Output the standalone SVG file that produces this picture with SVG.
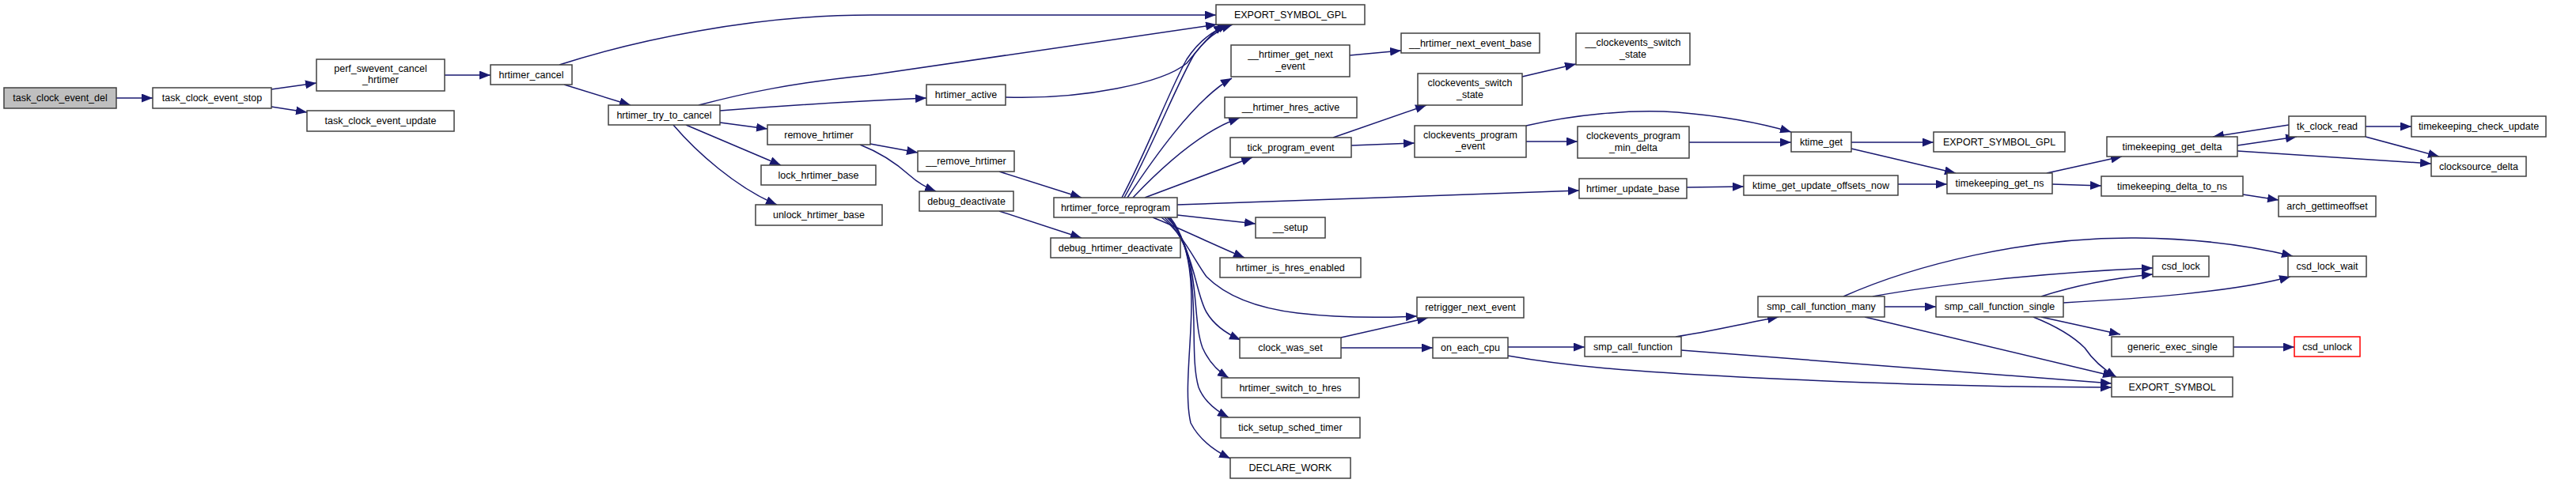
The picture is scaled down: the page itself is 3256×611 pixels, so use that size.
<svg xmlns="http://www.w3.org/2000/svg" width="3256" height="611" viewBox="0 0 3256 611">
<style>
.n rect{fill:#fff;stroke:#404040;stroke-width:1.5}
.n text{font-family:"Liberation Sans",Arial,sans-serif;font-size:12.5px;text-anchor:middle;fill:#000}
.root rect{fill:#bfbfbf}
.red rect{stroke:#ff0000}
#edges path{fill:none;stroke:#191970;stroke-width:1.5;marker-end:url(#a)}
</style>
<defs>
<marker id="a" markerUnits="userSpaceOnUse" markerWidth="14" markerHeight="11" refX="14" refY="5.5" orient="auto" viewBox="0 0 14 11"><path d="M0,0 L14,5.5 L0,11 z" fill="#191970"/></marker>
</defs>
<rect width="3256" height="611" fill="#fff"/>
<g id="edges">
<path d="M147,124 L193,124"/>
<path d="M343,113 L400,105"/>
<path d="M343,135 L388,142"/>
<path d="M562,95 L620,95"/>
<path d="M707,82 C800,52 950,19 1100,19 L1537,19"/>
<path d="M713,107 L797,133"/>
<path d="M883,133 C940,118 1000,105 1100,95 L1538,31"/>
<path d="M910,140 C1000,133 1100,127 1171,124"/>
<path d="M910,155 L970,163"/>
<path d="M867,158 L987,209"/>
<path d="M851,158 C880,192 930,237 982,259"/>
<path d="M1271,123 C1370,126 1470,105 1500,80 C1515,62 1530,42 1548,31"/>
<path d="M1418,250 C1450,190 1480,110 1500,75 C1515,52 1535,38 1553,31"/>
<path d="M1421,250 C1455,190 1490,100 1510,68 C1525,48 1540,37 1558,31"/>
<path d="M1425,250 C1455,205 1510,125 1557,99"/>
<path d="M1432,250 C1470,210 1520,165 1567,149"/>
<path d="M1447,250 L1583,199"/>
<path d="M1488,259 C1700,252 1850,246 1996,241"/>
<path d="M1488,272 L1587,283"/>
<path d="M1457,275 C1490,288 1530,308 1573,326"/>
<path d="M1468,275 C1495,295 1510,330 1525,350 C1550,375 1590,390 1640,396 C1700,403 1750,402 1791,400"/>
<path d="M1472,275 C1510,310 1510,370 1525,395 C1535,412 1550,422 1568,430"/>
<path d="M1475,275 C1520,320 1505,400 1520,440 C1528,458 1540,470 1553,478"/>
<path d="M1477,275 C1525,330 1500,440 1515,490 C1522,508 1538,520 1553,528"/>
<path d="M1479,275 C1530,340 1490,470 1505,535 C1515,555 1535,570 1555,580"/>
<path d="M1100,182 L1160,193"/>
<path d="M1087,183 C1110,192 1130,204 1150,222 C1160,231 1170,237 1183,242"/>
<path d="M1263,217 L1367,250"/>
<path d="M1263,267 L1367,301"/>
<path d="M1706,70 L1771,64"/>
<path d="M1685,174 L1803,133"/>
<path d="M1708,184 L1788,181"/>
<path d="M1924,97 L1992,81"/>
<path d="M1929,179 L1994,179"/>
<path d="M1929,159 C1990,145 2060,138 2120,142 C2180,147 2230,157 2264,167"/>
<path d="M2135,180 L2264,180"/>
<path d="M2132,237 L2204,236"/>
<path d="M2340,180 L2444,180"/>
<path d="M2340,188 L2472,219"/>
<path d="M2399,233 L2461,233"/>
<path d="M2587,219 L2682,198"/>
<path d="M2594,233 L2656,235"/>
<path d="M2828,184 L2903,173"/>
<path d="M2893,158 L2797,173"/>
<path d="M2990,160 L3048,160"/>
<path d="M2990,173 L3083,198"/>
<path d="M2828,191 L3073,207"/>
<path d="M2835,246 L2880,253"/>
<path d="M1695,427 L1805,402"/>
<path d="M1695,440 L1811,440"/>
<path d="M1906,439 L2003,439"/>
<path d="M1906,450 C1980,463 2060,470 2200,477 C2400,487 2550,490 2669,490"/>
<path d="M2118,426 C2160,420 2200,410 2248,401"/>
<path d="M2125,443 L2669,485"/>
<path d="M2382,388 L2447,388"/>
<path d="M2330,375 C2420,335 2560,300 2700,301 C2790,302 2850,312 2898,324"/>
<path d="M2367,375 C2450,360 2580,345 2721,339"/>
<path d="M2580,375 C2620,362 2670,352 2721,347"/>
<path d="M2608,383 C2700,378 2820,370 2895,350"/>
<path d="M2580,401 L2680,423"/>
<path d="M2570,401 C2600,413 2620,425 2635,440 C2645,455 2660,468 2675,477"/>
<path d="M2357,401 L2672,476"/>
<path d="M2823,439 L2900,439"/>
</g>
<g id="task_clock_event_del" class="n root"><rect x="5" y="111" width="142" height="26"/><text x="76" y="128">task_clock_event_del</text></g>
<g id="task_clock_event_stop" class="n"><rect x="193" y="111" width="150" height="26"/><text x="268" y="128">task_clock_event_stop</text></g>
<g id="perf_swevent_cancel_hrtimer" class="n"><rect x="400" y="75" width="162" height="40"/><text x="481" y="91">perf_swevent_cancel</text><text x="481" y="105">_hrtimer</text></g>
<g id="task_clock_event_update" class="n"><rect x="388" y="140" width="186" height="26"/><text x="481" y="157">task_clock_event_update</text></g>
<g id="hrtimer_cancel" class="n"><rect x="620" y="82" width="103" height="25"/><text x="671.5" y="99">hrtimer_cancel</text></g>
<g id="hrtimer_try_to_cancel" class="n"><rect x="769" y="133" width="141" height="25"/><text x="839.5" y="150">hrtimer_try_to_cancel</text></g>
<g id="remove_hrtimer" class="n"><rect x="970" y="158" width="130" height="25"/><text x="1035" y="175">remove_hrtimer</text></g>
<g id="lock_hrtimer_base" class="n"><rect x="962" y="209" width="145" height="25"/><text x="1034.5" y="226">lock_hrtimer_base</text></g>
<g id="unlock_hrtimer_base" class="n"><rect x="955" y="259" width="160" height="26"/><text x="1035" y="276">unlock_hrtimer_base</text></g>
<g id="EXPORT_SYMBOL_GPL_1" class="n"><rect x="1537" y="6" width="188" height="25"/><text x="1631" y="23">EXPORT_SYMBOL_GPL</text></g>
<g id="hrtimer_active" class="n"><rect x="1171" y="107" width="100" height="26"/><text x="1221" y="124">hrtimer_active</text></g>
<g id="__remove_hrtimer" class="n"><rect x="1160" y="191" width="122" height="26"/><text x="1221" y="208">__remove_hrtimer</text></g>
<g id="debug_deactivate" class="n"><rect x="1162" y="242" width="119" height="25"/><text x="1221.5" y="259">debug_deactivate</text></g>
<g id="hrtimer_force_reprogram" class="n"><rect x="1332" y="250" width="156" height="25"/><text x="1410" y="267">hrtimer_force_reprogram</text></g>
<g id="debug_hrtimer_deactivate" class="n"><rect x="1328" y="301" width="164" height="25"/><text x="1410" y="318">debug_hrtimer_deactivate</text></g>
<g id="__hrtimer_get_next_event" class="n"><rect x="1556" y="57" width="150" height="40"/><text x="1631" y="73">__hrtimer_get_next</text><text x="1631" y="88">_event</text></g>
<g id="__hrtimer_hres_active" class="n"><rect x="1548" y="123" width="167" height="26"/><text x="1631.5" y="140">__hrtimer_hres_active</text></g>
<g id="tick_program_event" class="n"><rect x="1555" y="174" width="153" height="25"/><text x="1631.5" y="191">tick_program_event</text></g>
<g id="__setup" class="n"><rect x="1587" y="275" width="88" height="26"/><text x="1631" y="292">__setup</text></g>
<g id="hrtimer_is_hres_enabled" class="n"><rect x="1542" y="326" width="178" height="25"/><text x="1631" y="343">hrtimer_is_hres_enabled</text></g>
<g id="clock_was_set" class="n"><rect x="1567" y="427" width="128" height="26"/><text x="1631" y="444">clock_was_set</text></g>
<g id="hrtimer_switch_to_hres" class="n"><rect x="1544" y="478" width="174" height="25"/><text x="1631" y="495">hrtimer_switch_to_hres</text></g>
<g id="tick_setup_sched_timer" class="n"><rect x="1543" y="528" width="176" height="26"/><text x="1631" y="545">tick_setup_sched_timer</text></g>
<g id="DECLARE_WORK" class="n"><rect x="1555" y="579" width="152" height="26"/><text x="1631" y="596">DECLARE_WORK</text></g>
<g id="__hrtimer_next_event_base" class="n"><rect x="1771" y="42" width="175" height="25"/><text x="1858.5" y="59">__hrtimer_next_event_base</text></g>
<g id="clockevents_switch_state" class="n"><rect x="1792" y="93" width="132" height="40"/><text x="1858" y="109">clockevents_switch</text><text x="1858" y="124">_state</text></g>
<g id="__clockevents_switch_state" class="n"><rect x="1992" y="42" width="144" height="40"/><text x="2064" y="58">__clockevents_switch</text><text x="2064" y="73">_state</text></g>
<g id="clockevents_program_event" class="n"><rect x="1788" y="159" width="141" height="40"/><text x="1858.5" y="175">clockevents_program</text><text x="1858.5" y="189">_event</text></g>
<g id="clockevents_program_min_delta" class="n"><rect x="1994" y="160" width="141" height="40"/><text x="2064.5" y="176">clockevents_program</text><text x="2064.5" y="191">_min_delta</text></g>
<g id="hrtimer_update_base" class="n"><rect x="1996" y="226" width="136" height="25"/><text x="2064" y="243">hrtimer_update_base</text></g>
<g id="retrigger_next_event" class="n"><rect x="1791" y="376" width="135" height="26"/><text x="1858.5" y="393">retrigger_next_event</text></g>
<g id="on_each_cpu" class="n"><rect x="1811" y="427" width="95" height="26"/><text x="1858.5" y="444">on_each_cpu</text></g>
<g id="smp_call_function" class="n"><rect x="2003" y="426" width="122" height="25"/><text x="2064" y="443">smp_call_function</text></g>
<g id="ktime_get" class="n"><rect x="2264" y="167" width="76" height="25"/><text x="2302" y="184">ktime_get</text></g>
<g id="EXPORT_SYMBOL_GPL_2" class="n"><rect x="2444" y="167" width="166" height="25"/><text x="2527" y="184">EXPORT_SYMBOL_GPL</text></g>
<g id="ktime_get_update_offsets_now" class="n"><rect x="2204" y="222" width="195" height="25"/><text x="2301.5" y="239">ktime_get_update_offsets_now</text></g>
<g id="timekeeping_get_ns" class="n"><rect x="2461" y="219" width="133" height="26"/><text x="2527.5" y="236">timekeeping_get_ns</text></g>
<g id="timekeeping_get_delta" class="n"><rect x="2663" y="173" width="165" height="25"/><text x="2745.5" y="190">timekeeping_get_delta</text></g>
<g id="timekeeping_delta_to_ns" class="n"><rect x="2656" y="223" width="179" height="25"/><text x="2745.5" y="240">timekeeping_delta_to_ns</text></g>
<g id="smp_call_function_many" class="n"><rect x="2222" y="375" width="160" height="26"/><text x="2302" y="392">smp_call_function_many</text></g>
<g id="smp_call_function_single" class="n"><rect x="2447" y="375" width="161" height="26"/><text x="2527.5" y="392">smp_call_function_single</text></g>
<g id="generic_exec_single" class="n"><rect x="2669" y="426" width="154" height="25"/><text x="2746" y="443">generic_exec_single</text></g>
<g id="EXPORT_SYMBOL" class="n"><rect x="2669" y="477" width="153" height="25"/><text x="2745.5" y="494">EXPORT_SYMBOL</text></g>
<g id="tk_clock_read" class="n"><rect x="2893" y="147" width="97" height="26"/><text x="2941.5" y="164">tk_clock_read</text></g>
<g id="timekeeping_check_update" class="n"><rect x="3048" y="147" width="170" height="26"/><text x="3133" y="164">timekeeping_check_update</text></g>
<g id="clocksource_delta" class="n"><rect x="3073" y="198" width="120" height="25"/><text x="3133" y="215">clocksource_delta</text></g>
<g id="arch_gettimeoffset" class="n"><rect x="2880" y="248" width="123" height="26"/><text x="2941.5" y="265">arch_gettimeoffset</text></g>
<g id="csd_lock" class="n"><rect x="2721" y="324" width="71" height="26"/><text x="2756.5" y="341">csd_lock</text></g>
<g id="csd_lock_wait" class="n"><rect x="2892" y="324" width="99" height="26"/><text x="2941.5" y="341">csd_lock_wait</text></g>
<g id="csd_unlock" class="n red"><rect x="2900" y="426" width="83" height="25"/><text x="2941.5" y="443">csd_unlock</text></g>
</svg>
